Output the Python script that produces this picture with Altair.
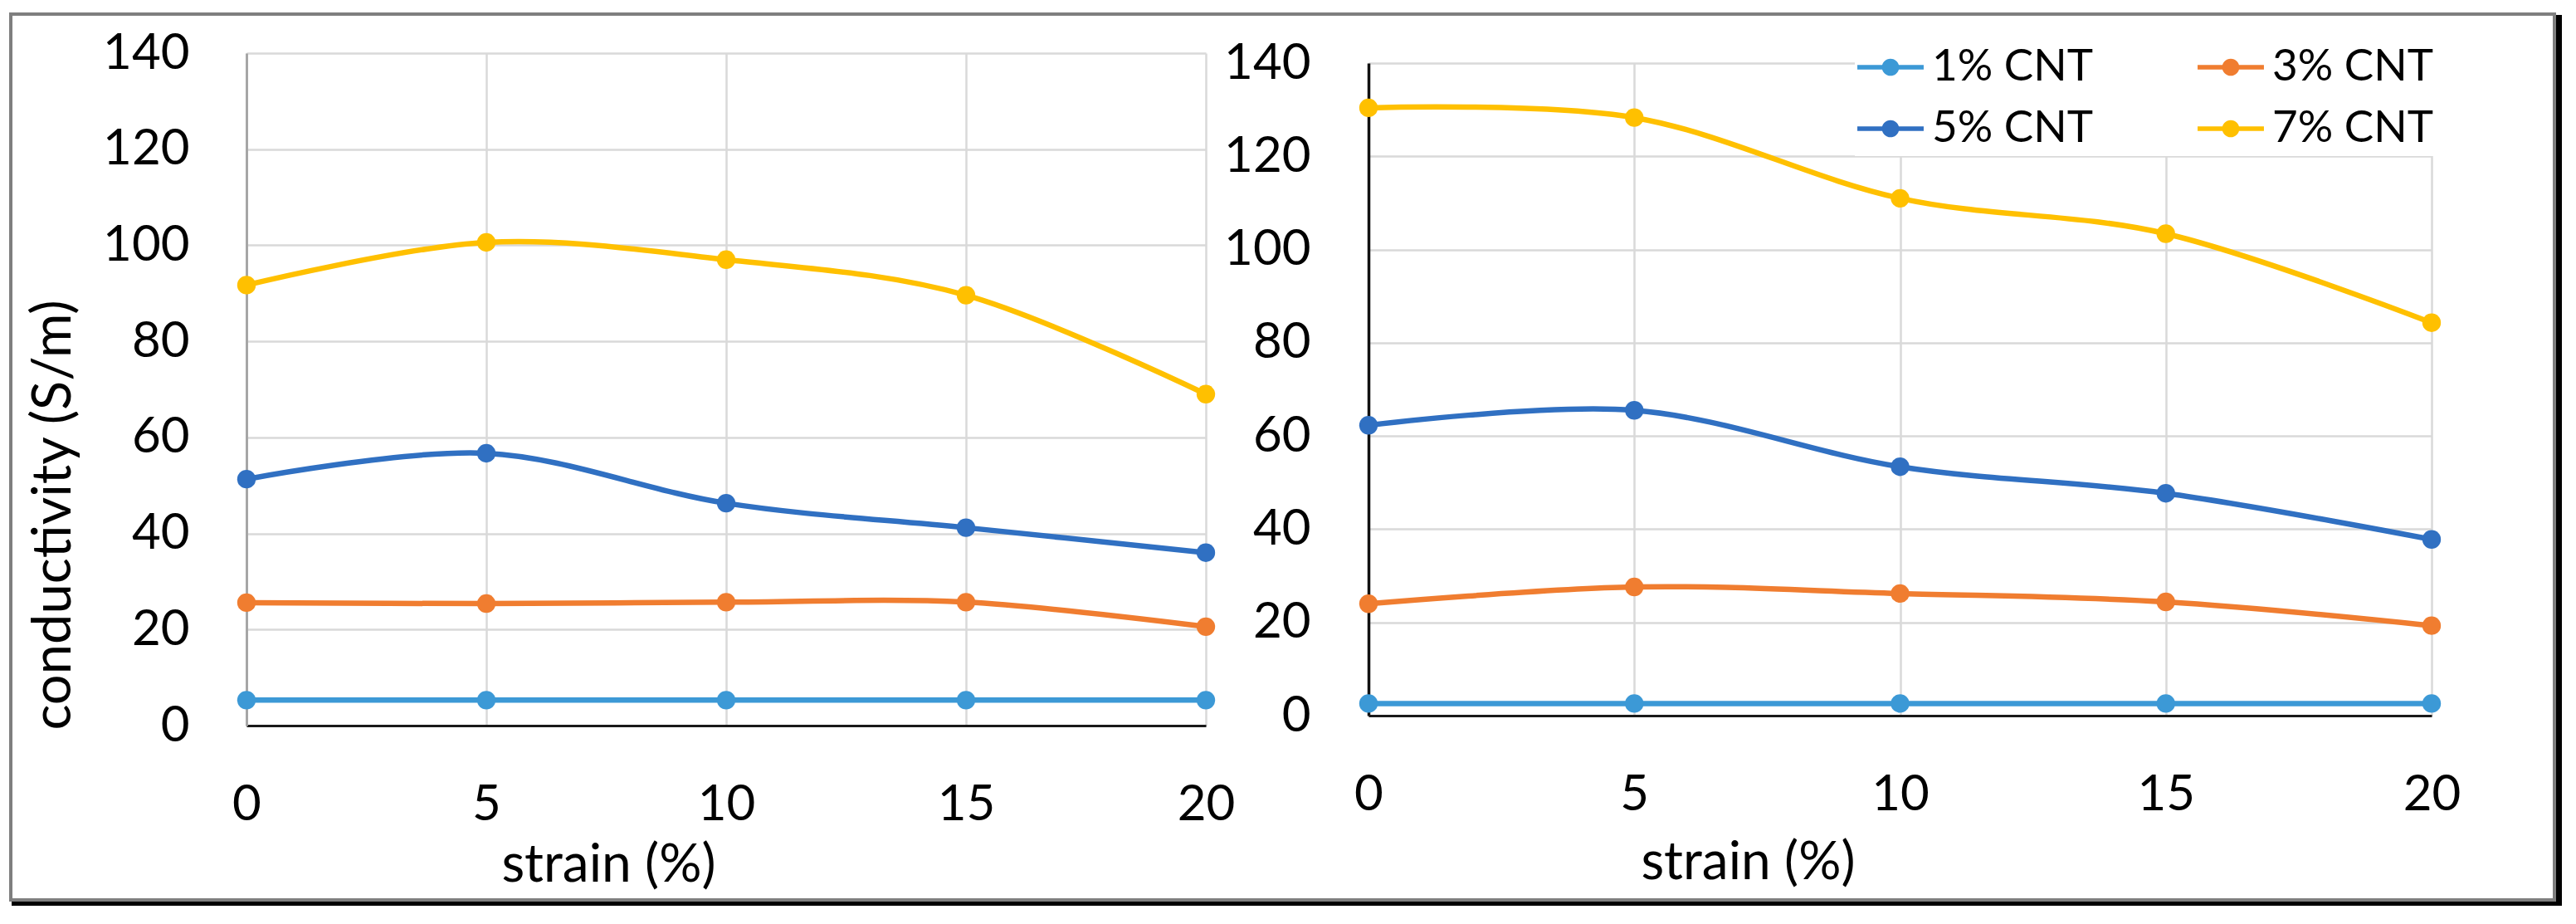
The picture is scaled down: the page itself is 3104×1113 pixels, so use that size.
import altair as alt
import pandas as pd

# ---------------- data ----------------
strain = [0, 5, 10, 15, 20]
series = ["1% CNT", "3% CNT", "5% CNT", "7% CNT"]
colors = ["#3C99D6", "#F07D30", "#3070C2", "#FFC000"]

# left panel
left_1 = [5.3, 5.3, 5.3, 5.3, 5.3]
left_3 = [25.6, 25.4, 25.7, 25.7, 20.6]
left_5 = [51.3, 56.7, 46.3, 41.2, 36.0]
left_7 = [91.7, 100.6, 97.0, 89.6, 69.0]

# right panel
right_1 = [2.6, 2.6, 2.6, 2.6, 2.6]
right_3 = [24.0, 27.6, 26.2, 24.4, 19.3]
right_5 = [62.3, 65.5, 53.4, 47.7, 37.8]
right_7 = [130.4, 128.3, 111.0, 103.4, 84.3]

y_ticks = [0, 20, 40, 60, 80, 100, 120, 140]

FONT = "Lato"

# legend glyph: short line with a dot in the middle (Excel style)
LEGEND_PATH = ("M-1.08 -0.075 L1.08 -0.075 L1.08 0.075 L-1.08 0.075 Z "
               "M0.28 0 A0.28 0.28 0 1 1 -0.28 0 A0.28 0.28 0 1 1 0.28 0 Z")


def long_df(vals_list):
    rows = []
    for name, vals in zip(series, vals_list):
        for s, v in zip(strain, vals):
            rows.append({"strain": s, "cond": v, "series": name})
    return pd.DataFrame(rows)


df_left = long_df([left_1, left_3, left_5, left_7])
df_right = long_df([right_1, right_3, right_5, right_7])


def x_enc(title_x, title_y):
    return alt.X(
        "strain:Q",
        scale=alt.Scale(domain=[0, 20], nice=False, zero=False),
        axis=alt.Axis(
            values=strain, title="strain (%)", grid=True,
            gridColor="#D9D9D9", gridWidth=2.5,
            domainColor="#1A1A1A", domainWidth=3,
            ticks=False, labelPadding=66, labelFontSize=60, labelFont=FONT,
            labelColor="black", labelFlush=False, labelOverlap=False,
            titleFont=FONT, titleFontSize=64, titleFontWeight="normal",
            titleColor="black", titleX=title_x, titleY=title_y,
            titleBaseline="alphabetic", titleAlign="center",
        ),
    )


def y_enc(left_panel):
    if left_panel:
        axis = alt.Axis(
            values=y_ticks, title="conductivity (S/m)", grid=True,
            gridColor="#D9D9D9", gridWidth=2.5,
            domainColor="#A6A6A6", domainWidth=3,
            ticks=False, labelPadding=69, labelFontSize=60, labelFont=FONT,
            labelColor="black", labelOverlap=False,
            titleFont=FONT, titleFontSize=65, titleFontWeight="normal",
            titleColor="black", titleAngle=270, titleX=-233, titleY=556,
            titleAlign="center", titleBaseline="middle",
        )
    else:
        axis = alt.Axis(
            values=y_ticks, title=None, grid=True,
            gridColor="#D9D9D9", gridWidth=2.5,
            domainColor="#111111", domainWidth=3.5,
            ticks=False, labelPadding=70, labelFontSize=60, labelFont=FONT,
            labelColor="black", labelOverlap=False,
        )
    return alt.Y("cond:Q", scale=alt.Scale(domain=[0, 140], nice=False), axis=axis)


legend_right = alt.Legend(
    title=None, orient="none", legendX=586, legendY=-38, columns=2,
    direction="horizontal",
    symbolType=LEGEND_PATH, symbolSize=5476, symbolStrokeWidth=0,
    labelFont=FONT, labelFontSize=53, labelColor="black", labelLimit=400,
    labelOffset=13, columnPadding=126, rowPadding=10, padding=6,
    fillColor="white",
)


def panel(df, left_panel, title_x, title_y, with_legend):
    base = alt.Chart(df).encode(x=x_enc(title_x, title_y), y=y_enc(left_panel))
    cscale = alt.Scale(domain=series, range=colors)
    lines = base.mark_line(interpolate="cardinal", strokeWidth=6.5).encode(
        color=alt.Color("series:N", scale=cscale,
                        legend=legend_right if with_legend else None),
    )
    points = base.mark_point(filled=True, size=500, opacity=1).encode(
        color=alt.Color("series:N", scale=cscale),
    )
    return [lines, points]


# decorative figure frame (gray outline with dark "shadow" on bottom/right)
frame_df = pd.DataFrame({"k": [0]})
frame_box = alt.Chart(frame_df).mark_rect(
    fillOpacity=0, stroke="#7F7F7F", strokeWidth=4
).encode(x=alt.value(-284), x2=alt.value(2781), y=alt.value(-47), y2=alt.value(1020))
frame_bottom = alt.Chart(frame_df).mark_rule(color="black", strokeWidth=5).encode(
    x=alt.value(-283), x2=alt.value(2790), y=alt.value(1024.5)
)
frame_right = alt.Chart(frame_df).mark_rule(color="black", strokeWidth=7).encode(
    x=alt.value(2786.5), y=alt.value(-46), y2=alt.value(1027)
)

left = alt.layer(
    *panel(df_left, True, 436, 187, False), frame_box, frame_bottom, frame_right
).properties(width=1156, height=810)

right = alt.layer(*panel(df_right, False, 457, 196, True)).properties(
    width=1281, height=786
)

chart = (
    alt.hconcat(left, right, spacing=196, bounds="flush", center=True)
    .resolve_scale(color="independent", x="independent", y="independent")
    .properties(padding={"left": 3, "top": 6, "right": 5, "bottom": 5}, background="white")
    .configure_view(stroke=None)
)

chart.save("out.html", embed_options={"renderer": "svg", "actions": False})
